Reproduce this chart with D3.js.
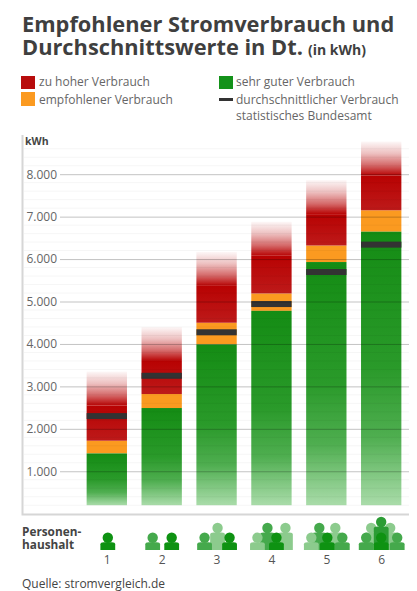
<!DOCTYPE html>
<html>
<head>
<meta charset="utf-8">
<script src="https://cdn.jsdelivr.net/npm/d3@7"></script>
<style>
html, body { margin: 0; background: #fff; overflow: hidden; }
svg { display: block; }
text { font-family: "Open Sans", sans-serif; }
</style>
</head>
<body>
<script>
var width = 417, height = 591;

const households = ["1", "2", "3", "4", "5", "6"];
const greenTop =   [1420, 2490, 3990, 4780, 5930, 6645];
const orangeTop =  [1720, 2820, 4500, 5190, 6320, 7150];
const redTop =     [3350, 4400, 6170, 6880, 7860, 8770];
const average =    [2300, 3250, 4275, 4940, 5695, 6340];
const barFloor = 200;
const tickValues = [1000, 2000, 3000, 4000, 5000, 6000, 7000, 8000];
const tickLabels = ["1.000", "2.000", "3.000", "4.000", "5.000", "6.000", "7.000", "8.000"];
const minorTicks = d3.range(200, 8800, 200).filter(v => v % 1000 != 0);
const legendLeft = ["zu hoher Verbrauch", "empfohlener Verbrauch"];
const legendRight = ["sehr guter Verbrauch", "durchschnittlicher Verbrauch", "statistisches Bundesamt"];

// people in each household icon, back to front: [offset from bar centre, row, colour]
const dark = "#0e9212", mid = "#45a94c", pale = "#8ccb8d";
const people = [
	[[1, 0, dark]],
	[[-9, 0, mid], [10, 0, dark]],
	[[1, 1, pale], [-12, 0, mid], [13, 0, dark]],
	[[14, 1, pale], [-4, 1, mid], [-14, 0, pale], [5, 0, dark]],
	[[9, 1, pale], [-7, 1, mid], [-15, 0, pale], [16, 0, mid], [1, 0, dark]],
	[[-10, 1, pale], [9, 1, pale], [0, 2, "#2b9c34"], [-15, 0, mid], [16, 0, mid], [0, 0, dark]]
];

const svg = d3.select("body").append("svg")
	.attr("width", width)
	.attr("height", height);

const yscale = d3.scaleLinear().domain([0, 8000]).range([513.7, 174.2]);
const xscale = d3.scaleBand().domain(households).range([79.5, 408.5]).paddingInner(0.265).paddingOuter(0.13);
const fadeHeight = 34;

// Title
svg.append("text").attr("x", 22).attr("y", 32)
	.attr("font-size", 21.8).attr("font-weight", 700).attr("fill", "#3f3f3f")
	.text("Empfohlener Stromverbrauch und");
const title2 = svg.append("text").attr("x", 22).attr("y", 55)
	.attr("font-size", 21.8).attr("font-weight", 700).attr("fill", "#3f3f3f")
	.text("Durchschnittswerte in Dt.");
title2.append("tspan").attr("dx", 5).attr("font-size", 14).text("(in kWh)");

// Legend
const addLegend = (x, y, label) => svg.append("text").attr("x", x).attr("y", y)
	.attr("font-size", 12).attr("fill", "#666").text(label);
svg.append("rect").attr("x", 21).attr("y", 76).attr("width", 14).attr("height", 13).attr("fill", "#b80c0c");
svg.append("rect").attr("x", 21).attr("y", 92).attr("width", 14).attr("height", 14).attr("fill", "#fb9a20");
svg.append("rect").attr("x", 219).attr("y", 76).attr("width", 14).attr("height", 13).attr("fill", "#14921a");
svg.append("rect").attr("x", 219).attr("y", 98).attr("width", 14).attr("height", 3).attr("fill", "#333");
addLegend(39, 86, legendLeft[0]);
addLegend(39, 104, legendLeft[1]);
addLegend(236, 86, legendRight[0]);
addLegend(236, 104, legendRight[1]);
addLegend(236, 120, legendRight[2]);

// Gradients
const defs = svg.append("defs");
const fade = defs.append("linearGradient").attr("id", "fade").attr("x1", 0).attr("x2", 0).attr("y1", 0).attr("y2", 1);
[[0, 0.03], [0.35, 0.25], [0.7, 0.6], [1, 1]].forEach(s =>
	fade.append("stop").attr("offset", s[0]).attr("stop-color", "#b80404").attr("stop-opacity", s[1]));
const redBody = defs.append("linearGradient").attr("id", "redBody").attr("x1", 0).attr("x2", 0).attr("y1", 0).attr("y2", 1);
[[0, "#b80202"], [1, "#bd1a1a"]].forEach(s =>
	redBody.append("stop").attr("offset", s[0]).attr("stop-color", s[1]));
const greenFade = defs.append("linearGradient").attr("id", "greenFade").attr("x1", 0).attr("x2", 0).attr("y1", 0).attr("y2", 1);
[[0, "#148c14"], [0.5, "#2a9a2a"], [0.75, "#4fae50"], [1, "#aadcaa"]].forEach(s =>
	greenFade.append("stop").attr("offset", s[0]).attr("stop-color", s[1]));

// Frame
svg.append("path")
	.attr("d", "M22.5,135V514.5H409")
	.attr("fill", "none").attr("stroke", "#d6d6d6").attr("stroke-width", 2);
svg.append("text").attr("x", 25).attr("y", 145)
	.attr("font-size", 10.5).attr("font-weight", 700).attr("fill", "#444").text("kWh");

// Bars
const bars = svg.selectAll("g.bar").data(households).enter().append("g").attr("class", "bar");
bars.append("rect")
	.attr("x", d => xscale(d)).attr("width", xscale.bandwidth())
	.attr("y", (d, i) => yscale(orangeTop[i]))
	.attr("height", (d, i) => yscale(greenTop[i]) - yscale(orangeTop[i]))
	.attr("fill", "#fb9a20");
bars.append("rect")
	.attr("x", d => xscale(d)).attr("width", xscale.bandwidth())
	.attr("y", (d, i) => yscale(greenTop[i]))
	.attr("height", (d, i) => yscale(barFloor) - yscale(greenTop[i]))
	.attr("fill", "url(#greenFade)");
bars.append("rect")
	.attr("x", d => xscale(d)).attr("width", xscale.bandwidth())
	.attr("y", (d, i) => yscale(redTop[i]) + fadeHeight)
	.attr("height", (d, i) => yscale(orangeTop[i]) - yscale(redTop[i]) - fadeHeight)
	.attr("fill", "url(#redBody)");
bars.append("rect")
	.attr("x", d => xscale(d)).attr("width", xscale.bandwidth())
	.attr("y", (d, i) => yscale(redTop[i]))
	.attr("height", fadeHeight)
	.attr("fill", "url(#fade)");
bars.append("rect")
	.attr("x", d => xscale(d)).attr("width", xscale.bandwidth())
	.attr("y", (d, i) => yscale(average[i]) - 3)
	.attr("height", 6)
	.attr("fill", "#333");

// Gridlines sit on top of the bars
svg.append("g").selectAll("line").data(minorTicks).enter().append("line")
	.attr("x1", 24).attr("x2", 409)
	.attr("y1", d => yscale(d)).attr("y2", d => yscale(d))
	.attr("stroke", "#000").attr("stroke-opacity", 0.04);

const y_axis = d3.axisLeft(yscale)
	.tickValues(tickValues)
	.tickFormat((d, i) => tickLabels[i])
	.tickSize(-349)
	.tickPadding(4);
const yaxis = svg.append("g").attr("class", "yaxis")
	.attr("transform", "translate(60, 0)")
	.call(y_axis);
yaxis.select(".domain").remove();
yaxis.selectAll("line").attr("stroke", "#000").attr("stroke-opacity", 0.24);
yaxis.selectAll("text").attr("font-size", 12).attr("fill", "#666").attr("x", -3)
	.style("font-family", '"Open Sans", sans-serif');

// Household icons
svg.append("text").attr("x", 22).attr("y", 535.5)
	.attr("font-size", 11.8).attr("font-weight", 700).attr("fill", "#444").text("Personen-");
svg.append("text").attr("x", 22).attr("y", 549)
	.attr("font-size", 11.8).attr("font-weight", 700).attr("fill", "#444").text("haushalt");

const rowHead = [537.7, 528, 522];
const iconBottom = 550;
const personPath = (headY) => {
	// shoulders start just under the head, body runs down to the common baseline
	const top = headY + 4.5;
	return "M-7.4," + iconBottom + "V" + (top + 2) + "Q-7.4," + top + " -4," + top + "H4Q7.4," + top + " 7.4," + (top + 2) + "V" + iconBottom + "Z";
};
const icons = svg.selectAll("g.icon").data(households).enter().append("g")
	.attr("class", "icon")
	.attr("transform", d => "translate(" + (xscale(d) + xscale.bandwidth() / 2) + ",0)");
const person = icons.selectAll("g").data((d, i) => people[i]).enter().append("g")
	.attr("transform", p => "translate(" + p[0] + ",0)")
	.attr("fill", p => p[2]);
person.append("circle").attr("cy", p => rowHead[p[1]]).attr("r", 5.2);
person.append("path").attr("d", p => personPath(rowHead[p[1]]));

svg.selectAll("text.num").data(households).enter().append("text")
	.attr("class", "num")
	.attr("x", d => xscale(d) + xscale.bandwidth() / 2 + 0.5)
	.attr("y", 564)
	.attr("text-anchor", "middle")
	.attr("font-size", 12).attr("fill", "#555")
	.text(d => d);

svg.append("text").attr("x", 22).attr("y", 587.5)
	.attr("font-size", 12).attr("fill", "#444").text("Quelle: stromvergleich.de");
</script>
</body>
</html>
